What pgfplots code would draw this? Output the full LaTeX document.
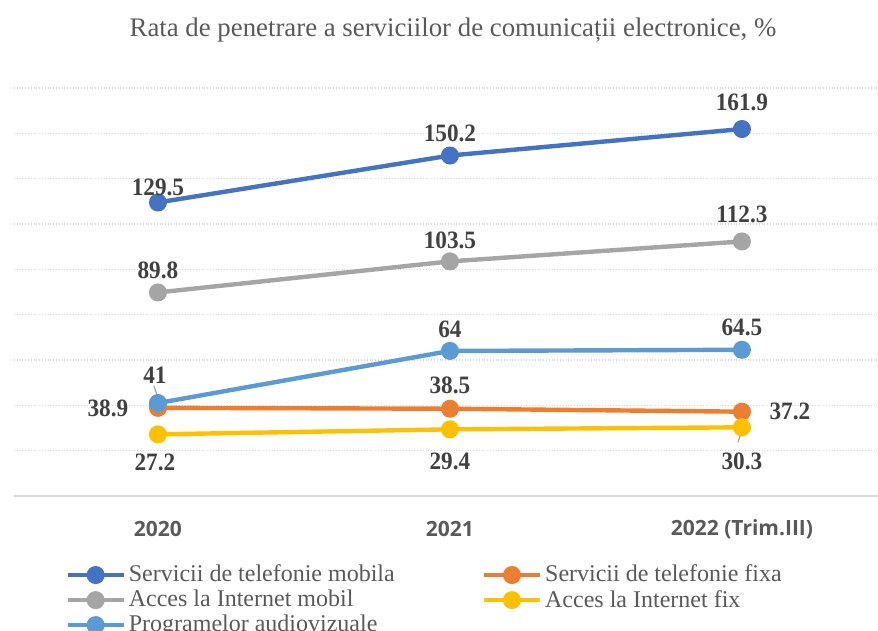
\documentclass[border=0pt]{standalone}
\usepackage{pgfplots}
\pgfplotsset{compat=1.18}
\usepackage{pgfplotstable}
\usepackage{fontspec}
\setmainfont{Liberation Serif}
\newfontfamily\labfont[FakeStretch=0.93]{Liberation Serif}
\newfontfamily\tickfont{Open Sans}
\usetikzlibrary{calc}

\definecolor{cmob}{HTML}{4472C4}
\definecolor{cfix}{HTML}{ED7D31}
\definecolor{cimob}{HTML}{A5A5A5}
\definecolor{cifix}{HTML}{FFC000}
\definecolor{caud}{HTML}{5B9BD5}
\definecolor{txt}{HTML}{595959}
\definecolor{lab}{HTML}{404040}
\definecolor{gridc}{HTML}{D9D9D9}

% x dx dy -> label offsets in pt
\pgfplotstableread{
x y dx dy lab
0 129.5 0 7.5 129.5
1 150.2 0 11 150.2
2 161.9 0 13.5 161.9
}\mobile
\pgfplotstableread{
x y dx dy lab
0 38.9 -25 -0.5 38.9
1 38.5 0 11.5 38.5
2 37.2 24 0 37.2
}\fixphone
\pgfplotstableread{
x y dx dy lab
0 89.8 0 11 89.8
1 103.5 0 10.5 103.5
2 112.3 0 13.5 112.3
}\intmob
\pgfplotstableread{
x y dx dy lab
0 27.2 -1.5 -14 27.2
1 29.4 0 -16 29.4
2 30.3 0 -17 30.3
}\intfix
\pgfplotstableread{
x y dx dy lab
0 41 -1.5 14 41
1 64 0 11 64
2 64.5 0 11 64.5
}\audio

\begin{document}
\begin{tikzpicture}
\begin{axis}[
  name=ax,
  scale only axis,
  width=432pt, height=204pt,
  xmin=-0.493, xmax=2.466,
  ymin=0, ymax=180,
  xtick={0,1,2},
  xticklabels={2020,2021,2022 (Trim.III)},
  ytick={0,20,...,180},
  yticklabels={},
  ymajorgrids,
  major grid style={gridc, densely dotted, line width=0.6pt},
  axis x line*=bottom, axis y line*=left,
  y axis line style={draw=none},
  x axis line style={gridc, line width=1.2pt, -},
  tick style={draw=none},
  xticklabel style={font=\tickfont\bfseries\fontsize{10.5}{12}\selectfont, text=txt, anchor=center, yshift=-16.5pt},
  clip=false,
  line width=2.2pt,
  every axis plot/.append style={mark=*, mark size=3.4pt},
  point meta=explicit symbolic,
  nodes near coords,
  visualization depends on={\thisrow{dx}\as\dx},
  visualization depends on={\thisrow{dy}\as\dy},
  nodes near coords style={anchor=center, xshift=\dx pt, yshift=\dy pt,
    font=\labfont\bfseries\fontsize{12.5}{14}\selectfont, text=lab},
  legend columns=2,
  legend cell align=left,
  legend style={at={(axis description cs:0.057,-0.1576)}, anchor=north west,
    draw=none, fill=none, inner sep=0pt, row sep=0pt,
    nodes={inner xsep=1.5pt, inner ysep=1.3pt},
    font=\fontsize{12}{13}\selectfont, text=txt,
    /tikz/every even column/.append style={column sep=42pt}},
  legend image code/.code={\draw[mark repeat=2, mark phase=2, #1]
    plot coordinates {(0pt,0pt) (14pt,0pt) (28pt,0pt)};},
]
\addplot[cmob] table[x=x, y=y, meta=lab] {\mobile};
\addlegendentry{Servicii de telefonie mobila}
\addplot[cfix] table[x=x, y=y, meta=lab] {\fixphone};
\addlegendentry{Servicii de telefonie fixa}
\addplot[cimob] table[x=x, y=y, meta=lab] {\intmob};
\addlegendentry{Acces la Internet mobil}
\addplot[cifix] table[x=x, y=y, meta=lab] {\intfix};
\addlegendentry{Acces la Internet fix}
\addplot[caud] table[x=x, y=y, meta=lab] {\audio};
\addlegendentry{Programelor audiovizuale}
% leader lines
\draw[cimob, line width=0.6pt] ($(axis cs:0,41)+(-0.5pt,4pt)$) -- ++(-1.5pt,4.5pt);
\draw[cimob, line width=0.6pt] ($(axis cs:2,30.3)+(-0.5pt,-3pt)$) -- ++(-1.5pt,-4.5pt);
\end{axis}
\node[text=txt, font=\fontsize{13.4}{15}\selectfont] at ($(ax.north)+(3.5pt,29pt)$)
  {Rata de penetrare a serviciilor de comunicații electronice, \%};
\pgfresetboundingbox
\path[use as bounding box] ($(ax.south west)+(-7pt,-67.5pt)$) rectangle ($(ax.north east)+(0pt,44pt)$);
\end{tikzpicture}
\end{document}
